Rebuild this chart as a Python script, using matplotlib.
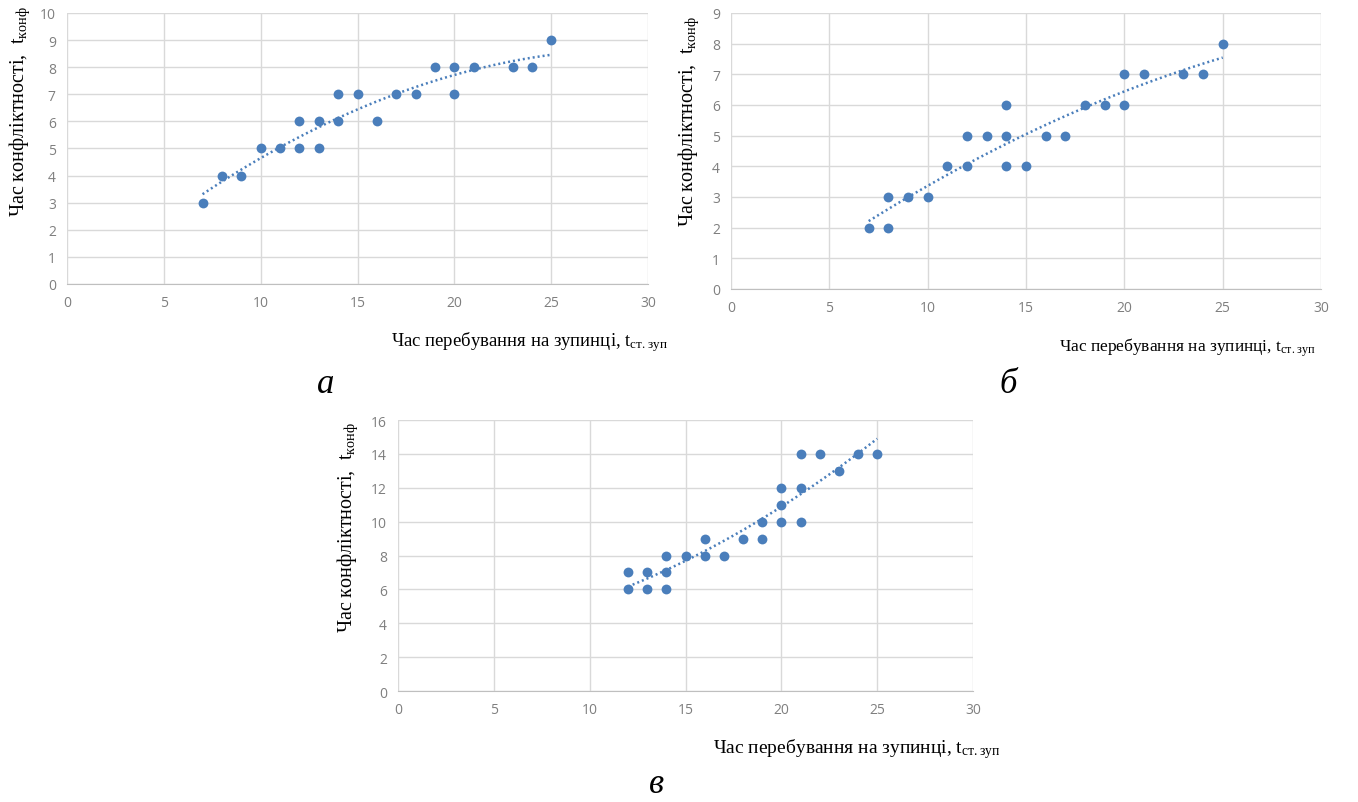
import numpy as np
from matplotlib import pyplot as plt

# панель а
xa = [7, 8, 9, 10, 11, 12, 12, 13, 13, 14, 14, 15, 16, 17, 18, 19, 20, 20, 21, 23, 24, 25]
ya = [3, 4, 4, 5, 5, 6, 5, 6, 5, 7, 6, 7, 6, 7, 7, 8, 8, 7, 8, 8, 8, 9]
# панель б
xb = [7, 8, 8, 9, 10, 11, 12, 12, 13, 14, 14, 14, 15, 16, 17, 18, 19, 20, 20, 21, 23, 24, 25]
yb = [2, 3, 2, 3, 3, 4, 4, 5, 5, 6, 5, 4, 4, 5, 5, 6, 6, 7, 6, 7, 7, 7, 8]
# панель в
xc = [12, 12, 13, 13, 14, 14, 14, 15, 16, 16, 17, 18, 19, 19, 20, 20, 20, 21, 21, 21, 22, 23, 24, 25]
yc = [7, 6, 7, 6, 8, 7, 6, 8, 9, 8, 8, 9, 10, 9, 12, 11, 10, 14, 12, 10, 14, 13, 14, 14]

blue = '#4a7ebb'
grid = '#d9d9d9'
tick_col = '#7f7f7f'
serif = ['Liberation Serif', 'DejaVu Serif']

fig = plt.figure(figsize=(13.58, 8.03), dpi=100)


def panel(rect, x, y, ymax, ystep):
    ax = fig.add_axes(rect)
    ax.scatter(x, y, s=50, color=blue, zorder=3, linewidths=0)
    # поліноміальний тренд 2-го степеня
    k = np.polyfit(x, y, 2)
    tx = np.linspace(min(x), max(x), 100)
    ax.plot(tx, np.polyval(k, tx), color=blue, lw=1.8, ls=(0, (0.8, 1.2)), zorder=2)
    ax.set_xlim(0, 30)
    ax.set_ylim(0, ymax)
    ax.set_xticks(np.arange(0, 31, 5))
    ax.set_yticks(np.arange(0, ymax + 1, ystep))
    ax.grid(True, color=grid, lw=1)
    ax.set_axisbelow(True)
    for s in ['top', 'right', 'left']:
        ax.spines[s].set_visible(False)
    ax.spines['bottom'].set_color('#bfbfbf')
    ax.tick_params(length=0, labelsize=10, labelcolor=tick_col, pad=8)
    for lab in ax.get_xticklabels() + ax.get_yticklabels():
        lab.set_fontfamily(['Open Sans', 'DejaVu Sans'])
    return ax


ax1 = panel([0.0493, 0.6451, 0.428, 0.3375], xa, ya, 10, 1)
ax2 = panel([0.5383, 0.6389, 0.4345, 0.3437], xb, yb, 9, 1)
ax3 = panel([0.2931, 0.1382, 0.4234, 0.3375], xc, yc, 16, 2)

ylab = 'Час конфліктності,  $\\mathregular{t_{конф}}$'
xlab = 'Час перебування на зупинці, $\\mathregular{t_{ст.зуп}}$'

fig.text(20 / 1358, 1 - 112 / 803, ylab, rotation=90, ha='center', va='center',
         fontsize=14.5, family=serif)
fig.text(689 / 1358, 1 - 122 / 803, ylab, rotation=90, ha='center', va='center',
         fontsize=14.5, family=serif)
fig.text(348 / 1358, 1 - 528 / 803, ylab, rotation=90, ha='center', va='center',
         fontsize=14.5, family=serif)

fig.text(529 / 1358, 1 - 342 / 803, xlab, ha='center', va='center', fontsize=13.5, family=serif)
fig.text(1187 / 1358, 1 - 348 / 803, xlab, ha='center', va='center', fontsize=12.5, family=serif)
fig.text(857 / 1358, 1 - 749 / 803, xlab, ha='center', va='center', fontsize=14, family=serif)

fig.text(326 / 1358, 1 - 385 / 803, 'а', ha='center', va='center', fontsize=25,
         style='italic', family=serif)
fig.text(1008 / 1358, 1 - 385 / 803, 'б', ha='center', va='center', fontsize=25,
         style='italic', family=serif)
fig.text(657 / 1358, 1 - 785 / 803, 'в', ha='center', va='center', fontsize=25,
         style='italic', family=serif)

plt.savefig('out.png', dpi=100)
